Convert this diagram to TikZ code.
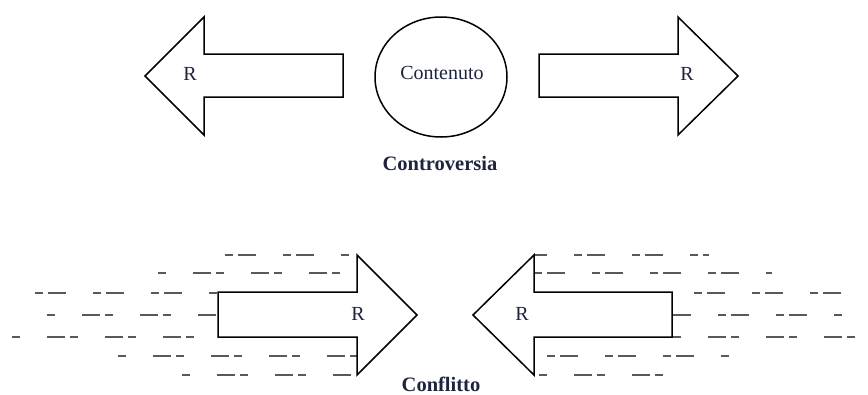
\documentclass[tikz,border=0pt]{standalone}
\usepackage{fontspec}
\usetikzlibrary{shapes.geometric}
\setmainfont{Liberation Serif}
\begin{document}
\begin{tikzpicture}[x=1pt,y=-1pt,
  txt/.style={text=txtcol,font=\fontsize{20}{24}\selectfont,inner sep=0pt},
  btxt/.style={text=txtcol,font=\fontsize{20.5}{24}\selectfont\bfseries,inner sep=0pt},
  arrowshape/.style={draw=black,line width=1.5pt,fill=white,line join=miter},
  dline/.style={draw=black!65,line width=1.6pt},
  dA/.style={dline,dash pattern=on 8pt off 5pt on 18pt off 27pt},
  dB/.style={dline,dash pattern=on 18pt off 5pt on 8pt off 27pt}]
\definecolor{txtcol}{RGB}{30,36,62}
\useasboundingbox (0,0) rectangle (868,394);

% ---------- Controversia ----------
\draw[arrowshape] (145,76) -- (204,17) -- (204,54) -- (343,54) -- (343,97) -- (204,97) -- (204,135) -- cycle;
\draw[arrowshape] (738,76) -- (678,17) -- (678,54) -- (539,54) -- (539,97) -- (678,97) -- (678,135) -- cycle;
\node[arrowshape,ellipse,minimum width=132pt,minimum height=120pt,inner sep=0pt] (cont) at (441,77) {};
\node[txt] (contl) at (442,73) {Contenuto};
\node[txt] (rl1) at (190,74) {R};
\node[txt] (rr1) at (687,74) {R};
\node[btxt] (controv) at (440,163) {Controversia};

% ---------- Conflitto: dashed trails ----------
\path[dA,dash phase=0pt]  (225,255) -- (352,255);
\path[dB,dash phase=23pt] (158,273) -- (343,273);
\path[dA,dash phase=0pt]  (35,293) -- (218,293);
\path[dB,dash phase=23pt] (47,315) -- (218,315);
\path[dB,dash phase=23pt] (12,337) -- (197,337);
\path[dB,dash phase=23pt] (118,356) -- (357,356);
\path[dB,dash phase=23pt] (182,375) -- (353,375);

\path[dA,dash phase=18pt] (534,255) -- (709,255);
\path[dA,dash phase=0pt]  (534,273) -- (772,273);
\path[dA,dash phase=0pt]  (694,293) -- (868,293);
\path[dA,dash phase=12pt] (672,315) -- (843,315);
\path[dB,dash phase=22pt] (672,337) -- (856,337);
\path[dA,dash phase=0pt]  (547,356) -- (731,356);
\path[dB,dash phase=18pt] (534,375) -- (665,375);

% ---------- Conflitto: arrows ----------
\draw[arrowshape] (417,315) -- (357,255) -- (357,292) -- (218,292) -- (218,337) -- (357,337) -- (357,375) -- cycle;
\draw[arrowshape] (473,315) -- (534,255) -- (534,292) -- (672,292) -- (672,337) -- (534,337) -- (534,375) -- cycle;
\node[txt] (rl2) at (358,314) {R};
\node[txt] (rr2) at (522,314) {R};
\node[btxt] (confl) at (441,384) {Conflitto};
\end{tikzpicture}
\end{document}
